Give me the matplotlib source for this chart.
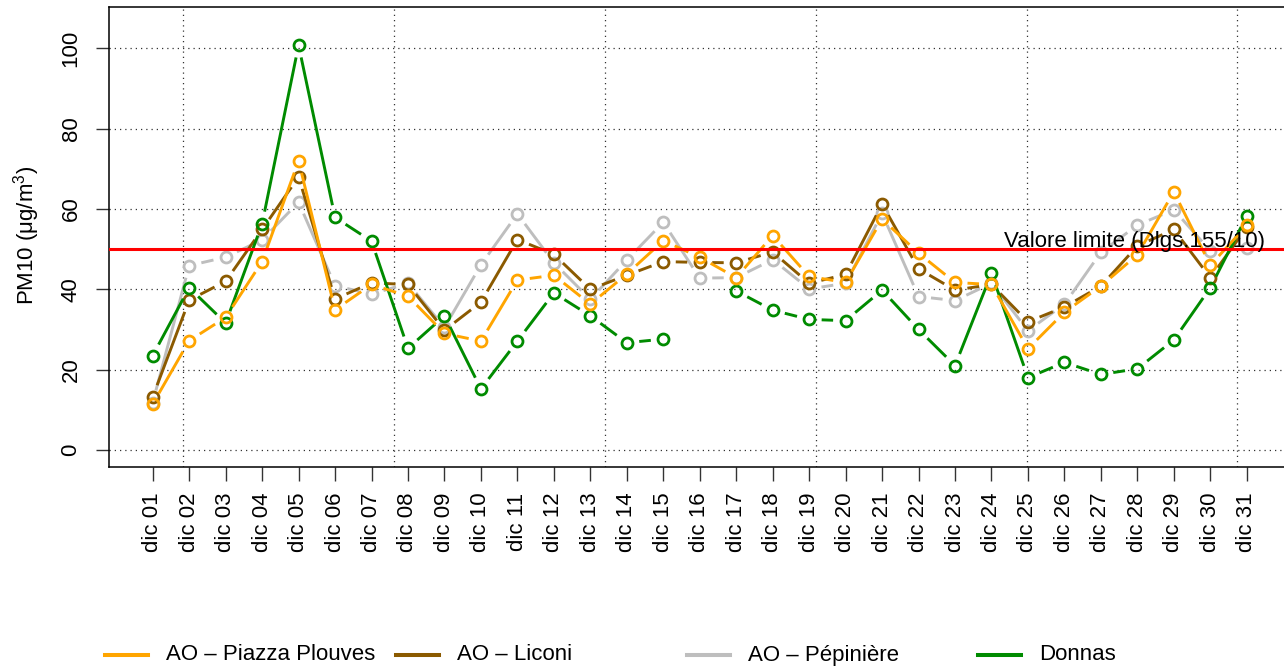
import numpy as np
import matplotlib
matplotlib.use("Agg")
import matplotlib.pyplot as plt
from matplotlib.collections import LineCollection
from matplotlib.lines import Line2D

plt.rcParams["font.family"] = ["Liberation Sans", "DejaVu Sans"]
plt.rcParams["mathtext.fontset"] = "custom"
plt.rcParams["mathtext.rm"] = "Liberation Sans"
plt.rcParams["mathtext.it"] = "Liberation Sans:italic"

# --- data: daily PM10, December ------------------------------------------------------------
days = [f"dic {d:02d}" for d in range(1, 32)]

plouves = [11.4, 27.2, 33.0, 46.9, 72.0, 34.9, 41.2, 38.3, 29.0, 27.1, 42.3, 43.5, 36.3, 43.8,
           52.1, 48.0, 42.9, 53.4, 43.2, 41.7, 57.5, 49.0, 41.7, 41.2, 25.2, 34.3, 40.8, 48.6,
           64.3, 46.0, 55.9]
liconi = [13.2, 37.3, 42.0, 54.9, 68.0, 37.6, 41.6, 41.2, 29.8, 36.8, 52.4, 48.7, 40.0, 43.5,
          46.9, 46.7, 46.6, 49.3, 41.5, 43.7, 61.2, 45.1, 39.8, 41.2, 31.9, 35.6, 40.8, 50.8,
          54.9, 42.9, 55.4]
pepiniere = [11.8, 45.9, 48.0, 52.3, 61.7, 40.9, 38.8, 41.5, 30.5, 46.1, 58.8, 46.6, 37.5, 47.3,
             56.7, 42.8, 42.9, 47.4, 40.1, 41.5, 58.9, 38.2, 37.2, 41.5, 29.7, 36.3, 49.2, 56.0,
             59.8, 49.6, 50.2]
donnas = [23.5, 40.4, 31.6, 56.3, 100.8, 57.9, 52.0, 25.3, 33.4, 15.2, 27.1, 39.1, 33.4, 26.7,
          27.6, np.nan, 39.6, 34.8, 32.5, 32.2, 39.8, 30.0, 21.0, 44.0, 18.0, 21.8, 18.8, 20.2,
          27.4, 40.4, 58.3]

series_names = ["AO \u2013 Piazza Plouves", "AO \u2013 Liconi", "AO \u2013 P\u00e9pini\u00e8re", "Donnas"]
series_values = [plouves, liconi, pepiniere, donnas]
series_colors = ["#FFA500", "#8B5A00", "#BEBEBE", "#008B00"]
series_z = [6, 4, 3, 5]

LIMIT = 50
limit_label = "Valore limite (Dlgs.155/10)"
grid_x = [0.84, 6.62, 12.40, 18.18, 23.96, 29.74]   # vertical grid as in the original
grid_y = [0, 20, 40, 60, 80, 100]

# --- figure -------------------------------------------------------------------------------
W, H = 1284, 669
fig = plt.figure(figsize=(W / 100, H / 100), dpi=100)
ax = fig.add_axes([109.3 / W, 1 - 466.7 / H, (1292 - 109.3) / W, (466.7 - 7.3) / H])
x = np.arange(len(days))
ax.set_xlim(-1.19, 31.24)
ax.set_ylim(-4.18, 110.24)

for gx in grid_x:
    ax.axvline(gx, color="#333333", lw=0.9, ls=(0, (1, 3.2)), zorder=1)
for gy in grid_y:
    ax.axhline(gy, color="#333333", lw=0.9, ls=(0, (1, 3.2)), zorder=1)


def gapped_lines(ax, xs, ys, color, z, gap=12.5):
    """R type='b': segments stop short of each point."""
    ys = np.asarray(ys, dtype=float)
    pts = ax.transData.transform(np.column_stack([xs, ys]))
    inv = ax.transData.inverted()
    segs = []
    for i in range(len(xs) - 1):
        if np.isnan(ys[i]) or np.isnan(ys[i + 1]):
            continue
        d = pts[i + 1] - pts[i]
        L = np.hypot(*d)
        if L <= 2 * gap:
            continue
        u = d / L
        segs.append(inv.transform([pts[i] + u * gap, pts[i + 1] - u * gap]))
    ax.add_collection(LineCollection(segs, colors=color, linewidths=2.1, zorder=z,
                                     capstyle="butt"))
    ax.plot(xs, ys, ls="none", marker="o", ms=7.9, mew=2.0, mfc="none", mec=color, zorder=z)


for vals, col, z in zip(series_values, series_colors, series_z):
    gapped_lines(ax, x, vals, col, z)

ax.axhline(LIMIT, color="#FF0000", lw=2.2, zorder=8)
ax.text(23.35, LIMIT + 0.6, limit_label, fontsize=16, ha="left", va="baseline", zorder=9)

ax.set_xticks(x)
ax.set_xticklabels(days, rotation=90, fontsize=16)
ax.set_yticks(grid_y)
ax.set_yticklabels([str(v) for v in grid_y], rotation=90, va="center", fontsize=16)
ax.tick_params(axis="x", length=10, width=1, pad=8.5, color="#333333")
ax.tick_params(axis="y", length=9.5, width=1, pad=10.5, color="#333333")
for s in ax.spines.values():
    s.set_linewidth(1.1)
    s.set_color("black")

fig.text(27 / W, 1 - 235 / H, "PM10 (\u03bcg/m$^3$)", rotation=90, ha="center", va="center",
         fontsize=16)

# --- legend along the bottom (R legend, horiz) --------------------------------------------
leg_y = 1 - 655 / H
for i, (name, col) in enumerate(zip(series_names, series_colors)):
    x0 = 105 + i * 291
    fig.add_artist(Line2D([x0 / W, (x0 + 43) / W], [leg_y, leg_y], color=col, lw=2.9,
                          transform=fig.transFigure))
    fig.text((x0 + 61) / W, leg_y, name, fontsize=16, ha="left", va="center")

fig.savefig("out.png", dpi=100)
